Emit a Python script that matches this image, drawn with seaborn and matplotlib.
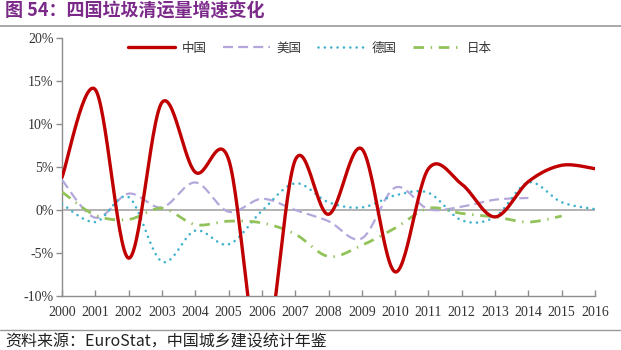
import numpy as np
import pandas as pd
import matplotlib
matplotlib.use("Agg")
import matplotlib.pyplot as plt
import seaborn as sns

years = list(range(2000, 2017))
china = [3.8, 14.0, -5.6, 12.5, 4.4, 5.9, -18.0, 5.8, -0.5, 7.1, -7.2, 4.8, 3.0, -0.8, 3.3, 5.2, 4.8]
usa = [3.5, -0.9, 1.9, 0.3, 3.2, -0.2, 1.3, 0.0, -1.3, -3.3, 2.6, 0.1, 0.4, 1.2, 1.4]
germany = [0.7, -1.4, 1.5, -6.0, -2.4, -4.0, -0.1, 3.1, 0.9, 0.3, 1.7, 2.0, -1.2, -0.8, 3.2, 0.9, 0.1]
japan = [2.1, -0.6, -1.1, 0.2, -1.7, -1.3, -1.5, -2.8, -5.4, -4.1, -2.1, 0.2, -0.4, -0.8, -1.4, -0.7]

series_names = ["中国", "美国", "德国", "日本"]
yticks = [-10, -5, 0, 5, 10, 15, 20]
ytick_labels = ["-10%", "-5%", "0%", "5%", "10%", "15%", "20%"]
title = "图 54：四国垃圾清运量增速变化"
source = "资料来源：EuroStat，中国城乡建设统计年鉴"


def smooth(xv, yv, n=30):
    """Excel-style smoothed line (Catmull-Rom Bezier) for rendering."""
    x = np.asarray(xv, float)
    y = np.asarray(yv, float)
    px, py = [], []
    m = len(x)
    for i in range(m - 1):
        x0, y0 = (x[i - 1], y[i - 1]) if i > 0 else (x[i], y[i])
        x3, y3 = (x[i + 2], y[i + 2]) if i + 2 < m else (x[i + 1], y[i + 1])
        x1, y1, x2, y2 = x[i], y[i], x[i + 1], y[i + 1]
        c1x, c1y = x1 + (x2 - x0) / 6, y1 + (y2 - y0) / 6
        c2x, c2y = x2 - (x3 - x1) / 6, y2 - (y3 - y1) / 6
        t = np.linspace(0, 1, n, endpoint=(i == m - 2))
        a = (1 - t) ** 3
        b = 3 * (1 - t) ** 2 * t
        c = 3 * (1 - t) * t ** 2
        d = t ** 3
        px.extend(a * x1 + b * c1x + c * c2x + d * x2)
        py.extend(a * y1 + b * c1y + c * c2y + d * y2)
    return np.array(px), np.array(py)


sns.set_theme(style="white")
plt.rcParams["font.family"] = ["Noto Sans CJK SC", "DejaVu Sans"]

fig = plt.figure(figsize=(6.21, 3.5), dpi=100)
ax = fig.add_axes([62 / 621, 1 - 296 / 350, (595 - 62) / 621, (296 - 38) / 350])

ax.axhline(0, color="#a6a6a6", lw=1.2, zorder=1)

styles = {
    "中国": dict(color="#c00000", lw=2.4, ls="-"),
    "美国": dict(color="#b4a7dc", lw=1.6, ls=(0, (4.5, 2.3))),
    "德国": dict(color="#3fb3cc", lw=1.9, ls=(0, (0.01, 2.4)), dash_capstyle="round"),
    "日本": dict(color="#92c25a", lw=2.0, ls=(0, (3.8, 2.4, 0.5, 2.4))),
}
data = {"中国": china, "美国": usa, "德国": germany, "日本": japan}

for name in series_names:
    vals = data[name]
    sx, sy = smooth(years[: len(vals)], vals)
    st = styles[name]
    sns.lineplot(x=sx, y=sy, ax=ax, sort=False, estimator=None, color=st["color"],
                 lw=st["lw"], linestyle=st["ls"], label=name,
                 dash_capstyle=st.get("dash_capstyle", "butt"),
                 zorder=5 if name == "中国" else 3)

ax.set_xlim(2000, 2016)
ax.set_ylim(-10, 20)
ax.set_yticks(yticks)
ax.set_yticklabels(ytick_labels)
ax.set_xticks(years)
ax.set_xticklabels([str(y) for y in years])
for lab in ax.get_xticklabels() + ax.get_yticklabels():
    lab.set_family(["Liberation Serif", "DejaVu Serif"])
    lab.set_fontsize(10)
    lab.set_color("#333333")

for s in ["top", "right"]:
    ax.spines[s].set_visible(False)
for s in ["left", "bottom"]:
    ax.spines[s].set_color("#8c8c8c")
    ax.spines[s].set_linewidth(1.0)
ax.tick_params(axis="y", direction="out", length=4, color="#8c8c8c", width=1, pad=2, left=True)
ax.tick_params(axis="x", direction="in", length=4, color="#8c8c8c", width=1, pad=7, bottom=True)

leg = ax.legend(loc="upper center", bbox_to_anchor=(0.465, 1.03), ncol=4, frameon=False,
                handlelength=3.8, columnspacing=1.3, handletextpad=0.5,
                prop={"family": ["Noto Sans CJK SC"], "size": 9})
for t in leg.get_texts():
    t.set_color("#333333")

fig.text(0.008, 1 - 11 / 350, title, fontsize=13, fontweight="bold", color="#7b2a8a",
         ha="left", va="center")
fig.add_artist(plt.Line2D([0, 1], [1 - 26 / 350, 1 - 26 / 350], color="#999999", lw=1.2,
                          transform=fig.transFigure))
fig.add_artist(plt.Line2D([0, 1], [1 - 330 / 350, 1 - 330 / 350], color="#999999", lw=1.0,
                          transform=fig.transFigure))
fig.text(0.008, 1 - 342 / 350, source, fontsize=11.5, color="#222222", ha="left", va="center")

fig.savefig("out.png", dpi=100)
